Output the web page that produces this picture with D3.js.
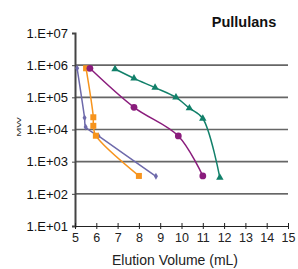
<!DOCTYPE html>
<html>
<head>
<meta charset="utf-8">
<script src="https://cdn.jsdelivr.net/npm/d3@7"></script>
<style>
  html, body { margin: 0; padding: 0; background: #fff; }
  svg { display: block; font-family: "Liberation Sans", Arial, sans-serif; }
</style>
</head>
<body>
<div id="vis"></div>
<script>
// series: elution volume (mL) vs MW
var blueX = [5.1, 5.45, 5.5, 6.1, 8.8];
var blueY = [8e5, 2.3e4, 1.2e4, 6.3e3, 3.5e2];
var orangeX = [5.52, 5.86, 5.86, 5.98, 8.0];
var orangeY = [8e5, 2.4e4, 1.3e4, 6.4e3, 3.6e2];
var purpleX = [5.7, 7.77, 9.85, 11.0];
var purpleY = [8e5, 4.9e4, 6.3e3, 3.6e2];
var greenX = [6.88, 7.77, 8.76, 9.74, 10.37, 11.0, 11.8];
var greenY = [7.6e5, 3.9e5, 2.0e5, 1.0e5, 4.6e4, 2.2e4, 3.2e2];
var xTicks = [5, 6, 7, 8, 9, 10, 11, 12, 13, 14, 15];
var yTicks = [1e1, 1e2, 1e3, 1e4, 1e5, 1e6, 1e7];
var gridTicks = [1e2, 1e3, 1e4, 1e5, 1e6];

var width = 298, height = 269;

var svg = d3.select("#vis")
    .append("svg")
    .attr("width", width)
    .attr("height", height);

var x = d3.scaleLinear().domain([5, 15]).range([75, 288]);
var y = d3.scaleLog().domain([1e1, 1e7]).range([226, 33]);

// gridlines
svg.append("g")
    .selectAll("line")
    .data(gridTicks)
    .enter()
    .append("line")
    .attr("x1", x(5))
    .attr("x2", x(15))
    .attr("y1", function (d) { return y(d); })
    .attr("y2", function (d) { return y(d); })
    .attr("stroke", function (d) { return d == 1e2 ? "#333" : "#666"; })
    .attr("stroke-width", function (d) { return d == 1e2 ? 1.2 : 1.6; });

function fmt(d) {
    var e = Math.round(Math.log10(d));
    return "1.E+" + (e < 10 ? "0" + e : e);
}

// Y axis
var yAxis = svg.append("g")
    .attr("transform", "translate(" + x(5) + ",0)")
    .call(d3.axisLeft(y).tickValues(yTicks).tickFormat(fmt).tickSize(3).tickPadding(4));
yAxis.select("path.domain").attr("stroke", "#444").attr("stroke-width", 2);
yAxis.selectAll(".tick line").attr("stroke", "#444");
yAxis.selectAll("text")
    .attr("font-size", "13px")
    .attr("fill", "#111")
    .style("font-family", "Liberation Sans, Arial, sans-serif");

// X axis
var xAxis = svg.append("g")
    .attr("transform", "translate(0," + y(1e1) + ")")
    .call(d3.axisBottom(x).tickValues(xTicks).tickSizeInner(3).tickSizeOuter(0).tickPadding(4));
xAxis.select("path.domain").attr("stroke", "#222").attr("stroke-width", 1.2);
xAxis.selectAll(".tick line").attr("stroke", "#222").attr("y1", -3).attr("y2", 3);
xAxis.selectAll("text")
    .attr("font-size", "12.5px")
    .attr("fill", "#222")
    .style("font-family", "Liberation Sans, Arial, sans-serif");

// labels
svg.append("text")
    .attr("x", 175)
    .attr("y", 265)
    .attr("text-anchor", "middle")
    .attr("font-size", "14px")
    .attr("fill", "#222")
    .text("Elution Volume (mL)");

svg.append("text")
    .attr("x", 244)
    .attr("y", 27)
    .attr("text-anchor", "middle")
    .attr("font-size", "14.5px")
    .attr("font-weight", "bold")
    .attr("fill", "#111")
    .text("Pullulans");

svg.append("text")
    .attr("transform", "translate(21,127) rotate(-90)")
    .attr("text-anchor", "middle")
    .attr("font-size", "6px")
    .attr("textLength", 20)
    .attr("lengthAdjust", "spacingAndGlyphs")
    .attr("fill", "#333")
    .text("MW");

var line = d3.line()
    .x(function (d) { return x(d[0]); })
    .y(function (d) { return y(d[1]); })
    .curve(d3.curveCatmullRom.alpha(0.5));

function series(xs, ys, color, shape, size) {
    var pts = xs.map(function (v, i) { return [v, ys[i]]; });
    var g = svg.append("g");
    g.append("path")
        .datum(pts)
        .attr("d", line)
        .attr("fill", "none")
        .attr("stroke", color)
        .attr("stroke-width", 1.5);
    g.selectAll(null)
        .data(pts)
        .enter()
        .append("path")
        .attr("transform", function (d) { return "translate(" + x(d[0]) + "," + y(d[1]) + ")"; })
        .attr("d", d3.symbol().type(shape).size(size))
        .attr("fill", color);
}

series(blueX, blueY, "#6e6aab", d3.symbolDiamond, 14);
series(orangeX, orangeY, "#f7941d", d3.symbolSquare, 36);
series(purpleX, purpleY, "#8a1c7c", d3.symbolCircle, 36);
series(greenX, greenY, "#12806a", d3.symbolTriangle, 24);
</script>
</body>
</html>
